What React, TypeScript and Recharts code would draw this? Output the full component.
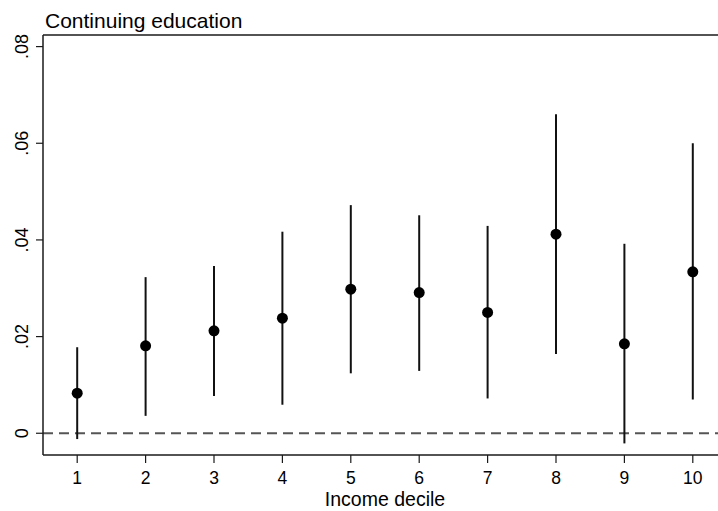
import React from "react";
import {
  ComposedChart,
  Scatter,
  ErrorBar,
  XAxis,
  YAxis,
  ReferenceLine,
  Customized,
} from "recharts";

const deciles = [1, 2, 3, 4, 5, 6, 7, 8, 9, 10];
const estimates = [0.0083, 0.0181, 0.0212, 0.0238, 0.0298, 0.0291, 0.025, 0.0412, 0.0185, 0.0334];
const ciLower = [-0.0012, 0.0036, 0.0077, 0.0059, 0.0124, 0.0129, 0.0072, 0.0164, -0.0021, 0.007];
const ciUpper = [0.0178, 0.0323, 0.0346, 0.0417, 0.0472, 0.0451, 0.0429, 0.066, 0.0392, 0.06];
const yTicks = [0, 0.02, 0.04, 0.06, 0.08];
const xTicks = [1, 2, 3, 4, 5, 6, 7, 8, 9, 10];
const titleText = "Continuing education";
const xLabel = "Income decile";

const Y_MIN = -0.0045;
const Y_MAX = 0.0824;
const FONT = '"Liberation Sans", Arial, sans-serif';

const data = deciles.map((d, i) => ({
  decile: d,
  est: estimates[i],
  err: [estimates[i] - ciLower[i], ciUpper[i] - estimates[i]],
}));

const fmtY = (v: number) => (v === 0 ? "0" : v.toFixed(2).replace(/^0/, ""));

const YTick = (props: any) => {
  const { x, y, payload } = props;
  const bx = x - 6;
  return (
    <text
      x={bx}
      y={y}
      transform={`rotate(-90, ${bx}, ${y})`}
      textAnchor="middle"
      fontSize={18}
      fontFamily={FONT}
      fill="#000"
    >
      {fmtY(payload.value)}
    </text>
  );
};

const XTick = (props: any) => {
  const { x, y, payload } = props;
  return (
    <text x={x} y={y} dy={19} textAnchor="middle" fontSize={17.5} fontFamily={FONT} fill="#000">
      {payload.value}
    </text>
  );
};

const Dot = (props: any) => {
  const { cx, cy } = props;
  return <circle cx={cx} cy={cy} r={5.5} fill="#000" />;
};

const Title = () => (
  <text x={45} y={28} fontSize={21} fontFamily={FONT} fill="#000">
    {titleText}
  </text>
);

export default function App() {
  return (
    <div
      style={{
        position: "absolute",
        left: 0,
        top: 0,
        width: 718,
        height: 511,
        overflow: "hidden",
        background: "#fff",
      }}
    >
      <ComposedChart
        width={740}
        height={511}
        data={data}
        margin={{ top: 35, right: 13, left: 0, bottom: 0 }}
      >
        <XAxis
          dataKey="decile"
          type="number"
          domain={[0.5, 10.5]}
          ticks={xTicks}
          interval={0}
          height={56}
          tickSize={8}
          tick={<XTick />}
          axisLine={{ stroke: "#1a1a1a", strokeWidth: 1.5 }}
          tickLine={{ stroke: "#1a1a1a", strokeWidth: 1.2 }}
          label={{
            value: xLabel,
            position: "insideBottom",
            offset: 5,
            fontSize: 19.5,
            fontFamily: FONT,
            fill: "#000",
          }}
        />
        <YAxis
          type="number"
          domain={[Y_MIN, Y_MAX]}
          ticks={yTicks}
          interval={0}
          width={43}
          tickSize={7}
          tick={<YTick />}
          axisLine={{ stroke: "#1a1a1a", strokeWidth: 1.5 }}
          tickLine={{ stroke: "#1a1a1a", strokeWidth: 1.2 }}
          allowDataOverflow
        />
        <ReferenceLine y={Y_MAX} stroke="#1a1a1a" strokeWidth={1.5} />
        <ReferenceLine y={0} stroke="#555" strokeWidth={1.8} strokeDasharray="10 6" />
        <Scatter dataKey="est" shape={<Dot />} isAnimationActive={false}>
          <ErrorBar
            dataKey="err"
            direction="y"
            width={0}
            stroke="#111"
            strokeWidth={2}
            isAnimationActive={false}
          />
        </Scatter>
        <Customized component={Title} />
      </ComposedChart>
    </div>
  );
}
